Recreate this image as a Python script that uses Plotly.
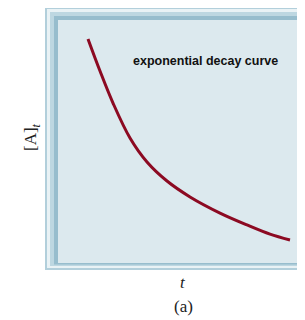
import plotly.graph_objects as go

# Data (arbitrary units)
t_values = [0.0, 0.594, 1.238, 2.079, 2.921, 3.911, 5.05, 6.535, 7.871, 9.01, 10.0]
conc_values = [1.000, 0.857, 0.714, 0.558, 0.451, 0.366, 0.295, 0.223, 0.170, 0.129, 0.103]

title_text = "exponential decay curve"
x_label = "<i>t</i>"
y_label = "[A]<sub><i>t</i></sub>"
caption = "(a)"

OFF = 8  # page body margin
W, H = 305 - OFF, 320 - OFF
L, R, T, B = 59 - OFF, 0, 21 - OFF, 320 - 263
pw, ph = W - L - R, H - T - B


def px(x):
    return (x - OFF - L) / pw


def py(y):
    return (H - B - (y - OFF)) / ph


fig = go.Figure()
fig.add_trace(go.Scatter(
    x=t_values, y=conc_values, mode="lines",
    line=dict(color="#8c0a22", width=3, shape="spline", smoothing=1.0),
    hoverinfo="skip", showlegend=False,
))

# frame made of nested rectangles (outer bevel)
bands = [
    (45, 7, 270, "#b2cfdb"),
    (47, 9, 268, "#e9f2f5"),
    (50, 12, 266, "#bdd7e1"),
    (54, 16, 264.5, "#97bdcd"),
    (58, 20, 263, "#dce9ee"),
]
shapes = []
for x0, y0, y1, col in bands:
    shapes.append(dict(type="rect", xref="paper", yref="paper",
                       x0=px(x0), x1=1.2, y0=py(y1), y1=py(y0),
                       fillcolor=col, line=dict(width=0), layer="below"))

annotations = [
    dict(text=f"<b>{title_text}</b>", xref="paper", yref="paper",
         x=px(205), y=py(61), showarrow=False, xanchor="center", yanchor="middle",
         font=dict(family="Liberation Sans, Arial", size=12.5, color="#111111")),
    dict(text=x_label, xref="paper", yref="paper", x=px(183), y=py(282),
         showarrow=False, xanchor="center", yanchor="middle",
         font=dict(family="Liberation Serif, Times New Roman", size=17, color="#222222")),
    dict(text=caption, xref="paper", yref="paper", x=px(183), y=py(306),
         showarrow=False, xanchor="center", yanchor="middle",
         font=dict(family="Liberation Serif, Times New Roman", size=17, color="#222222")),
    dict(text=y_label, xref="paper", yref="paper", x=px(32), y=py(137),
         showarrow=False, xanchor="center", yanchor="middle", textangle=-90,
         font=dict(family="Liberation Serif, Times New Roman", size=17, color="#222222")),
]

x_lo = 0 - (88 - 59) / 20.2
x_hi = 10 + (305 - 290) / 20.2
y_per = 1.0 / (263 - 39)
y_lo = 0.0
y_hi = 1.0 + (39 - 21) * y_per

fig.update_layout(
    width=W, height=H,
    margin=dict(l=L, r=R, t=T, b=B),
    paper_bgcolor="white", plot_bgcolor="rgba(0,0,0,0)",
    xaxis=dict(range=[x_lo, x_hi], visible=False, fixedrange=True),
    yaxis=dict(range=[y_lo, y_hi], visible=False, fixedrange=True),
    shapes=shapes, annotations=annotations,
)

fig.write_html("out.html")
